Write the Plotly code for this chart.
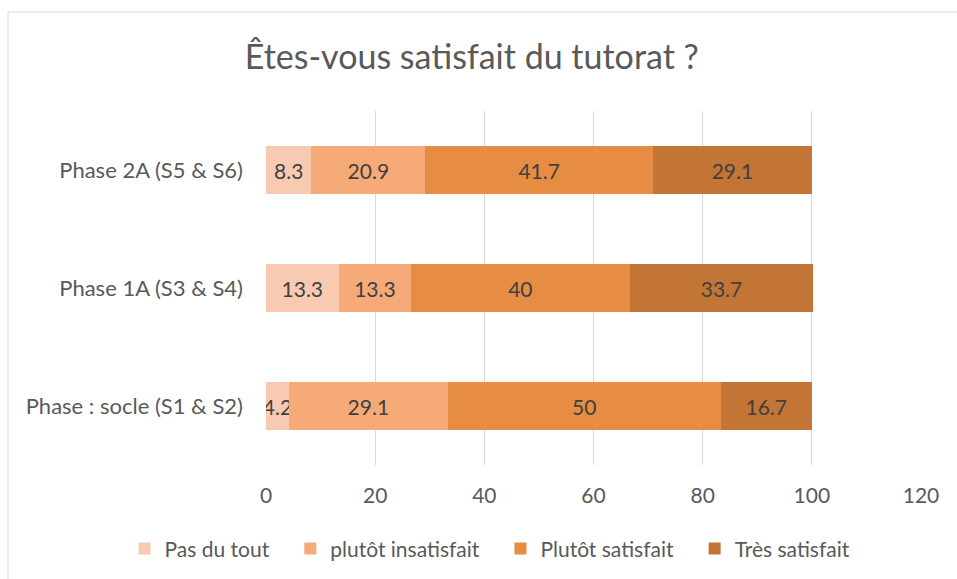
import plotly.graph_objects as go

# categories bottom -> top (plotly draws the first category at the bottom)
phases = ["Phase : socle (S1 & S2)", "Phase 1A (S3 & S4)", "Phase 2A (S5 & S6)"]

pas_du_tout = [4.2, 13.3, 8.3]
plutot_insatisfait = [29.1, 13.3, 20.9]
plutot_satisfait = [50, 40, 41.7]
tres_satisfait = [16.7, 33.7, 29.1]

series_names = ["Pas du tout", "plutôt insatisfait", "Plutôt satisfait", "Très satisfait"]
series_values = [pas_du_tout, plutot_insatisfait, plutot_satisfait, tres_satisfait]
colors = ["#F8CAB1", "#F6AA78", "#E78C43", "#C27535"]

x_ticks = [0, 20, 40, 60, 80, 100, 120]

FONT = "Lato"
GREY = '#595959'

fig = go.Figure()

for name, vals, color in zip(series_names, series_values, colors):
    fig.add_trace(go.Bar(
        name=name + '\u00a0\u00a0\u00a0',
        y=phases,
        x=vals,
        orientation='h',
        marker=dict(color=color, line=dict(width=0)),
        width=0.4,
        text=[f'{v:g}' for v in vals],
        textposition='inside',
        insidetextanchor='middle',
        constraintext='none',
        textangle=0,
        textfont=dict(size=21, color='#404040', family=FONT),
    ))

fig.update_layout(
    barmode='stack',
    width=957,
    height=579,
    margin=dict(l=266, r=36, t=111, b=114, autoexpand=False),
    title={
        'text': 'Êtes-vous satisfait du tutorat ?',
        'x': 0.493,
        'xanchor': 'center',
        'y': 0.902,
        'yanchor': 'middle',
        'font': {'size': 34, 'color': GREY, 'family': FONT}
    },
    font={'size': 21, 'color': GREY, 'family': FONT},
    legend={
        'orientation': 'h',
        'yanchor': 'middle',
        'y': -0.237,
        'xanchor': 'left',
        'x': -0.216,
        'font': {'size': 21, 'color': GREY, 'family': FONT},
        'traceorder': 'normal',
        'itemwidth': 30,
    },
    plot_bgcolor='white',
    paper_bgcolor='white',
    showlegend=True,
)

fig.update_xaxes(
    range=[0, 120],
    tickvals=x_ticks,
    tickangle=0,
    showgrid=True,
    gridcolor='#D9D9D9',
    gridwidth=1,
    zeroline=False,
    showline=False,
    ticks='',
    tickfont=dict(size=21, color=GREY, family=FONT),
    ticklabelstandoff=16,
)
fig.update_yaxes(
    showgrid=False,
    zeroline=False,
    showline=False,
    ticks='',
    tickfont=dict(size=22, color=GREY, family=FONT),
    ticklabelstandoff=22,
)

# chart area border
fig.add_shape(
    type='rect', xref='paper', yref='paper',
    x0=(8 - 266) / 655, x1=(965 - 266) / 655,
    y0=(465 - 590) / 354, y1=(465 - 12) / 354,
    line=dict(color='#D9D9D9', width=1),
    fillcolor='rgba(0,0,0,0)',
    layer='below',
)

fig.write_html("out.html", config={'displayModeBar': False},
               post_script="document.body.style.margin='0';")
